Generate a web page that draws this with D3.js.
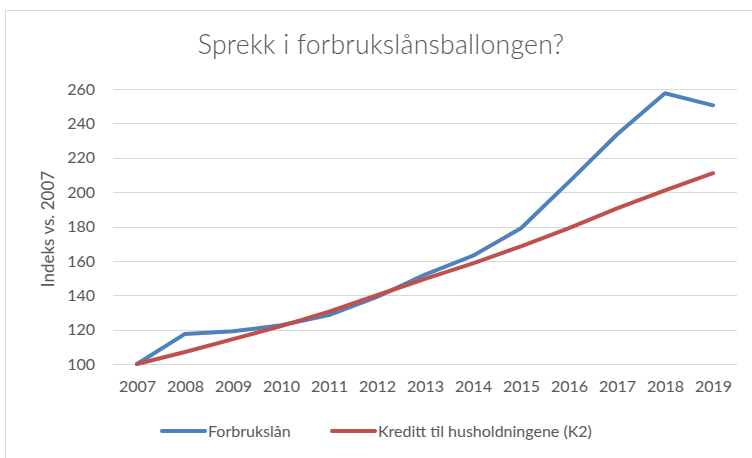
<!DOCTYPE html>
<html>
<head>
<meta charset="utf-8">
<script src="https://cdn.jsdelivr.net/npm/d3@7"></script>
<style>
  body { margin: 0; background: #fff; }
  text { font-family: Lato, "Open Sans", sans-serif; fill: #595959; }
</style>
</head>
<body>
<div id="chart"></div>
<script>
// values (index, 2007 = 100)
var years = ["2007", "2008", "2009", "2010", "2011", "2012", "2013", "2014", "2015", "2016", "2017", "2018", "2019"];
var forbrukslan = [100, 117.5, 119, 122.5, 128.5, 139, 152, 163, 179, 206, 233.5, 257.5, 250.5];
var kreditt = [100, 107, 114.5, 122, 130.5, 140, 149.5, 158.5, 168.5, 179, 190.5, 201, 211];
var yTicks = [100, 120, 140, 160, 180, 200, 220, 240, 260];

var seriesNames = ["Forbrukslån", "Kreditt til husholdningene (K2)"];
var seriesColors = ["#4f81bd", "#c0504d"];

var W = 752, H = 458;
var plot = {left: 113, right: 737, top: 89, bottom: 364};

var svg = d3.select("#chart").append("svg")
    .attr("width", W)
    .attr("height", H);

// chart frame
svg.append("rect")
    .attr("x", 5.5).attr("y", 10.5)
    .attr("width", 800).attr("height", 500)
    .attr("fill", "none")
    .attr("stroke", "#d9d9d9");

var x = d3.scalePoint()
    .domain(years)
    .range([plot.left, plot.right])
    .padding(0.5);

var y = d3.scaleLinear()
    .domain([100, 260])
    .range([plot.bottom, plot.top]);

// gridlines
svg.append("g")
    .selectAll("line")
    .data(yTicks)
    .enter().append("line")
    .attr("x1", plot.left)
    .attr("x2", plot.right)
    .attr("y1", d => Math.round(y(d)) + 0.5)
    .attr("y2", d => Math.round(y(d)) + 0.5)
    .attr("stroke", "#d9d9d9")
    .attr("stroke-width", 1);

// y axis labels
var yAxis = d3.axisLeft(y).tickValues(yTicks).tickSize(0).tickPadding(0);
svg.append("g")
    .attr("transform", "translate(95,0)")
    .call(yAxis)
    .call(g => g.select(".domain").remove())
    .selectAll("text")
    .attr("font-size", 16)
    .attr("font-family", null)
    .attr("fill", null);

// x axis labels
var xAxis = d3.axisBottom(x).tickSize(0).tickPadding(0);
svg.append("g")
    .attr("transform", "translate(0,381)")
    .call(xAxis)
    .call(g => g.select(".domain").remove())
    .selectAll("text")
    .attr("font-size", 16)
    .attr("font-family", null)
    .attr("fill", null);

// y axis title
svg.append("text")
    .attr("transform", "translate(54,229) rotate(-90)")
    .attr("text-anchor", "middle")
    .attr("font-size", 17)
    .text("Indeks vs. 2007");

// title
svg.append("text")
    .attr("x", 381)
    .attr("y", 54)
    .attr("text-anchor", "middle")
    .attr("font-size", 26.5)
    .attr("font-weight", 300)
    .attr("letter-spacing", 0.3)
    .text("Sprekk i forbrukslånsballongen?");

// lines
var line = d3.line()
    .x((d, i) => x(years[i]))
    .y(d => y(d));

[forbrukslan, kreditt].forEach(function (s, i) {
    svg.append("path")
        .datum(s)
        .attr("d", line)
        .attr("fill", "none")
        .attr("stroke", seriesColors[i])
        .attr("stroke-width", 4)
        .attr("stroke-linejoin", "round")
        .attr("stroke-linecap", "round");
});

// legend
var legendX = [162, 332];
var legend = svg.append("g")
    .selectAll("g")
    .data(seriesNames)
    .enter().append("g")
    .attr("transform", (d, i) => "translate(" + legendX[i] + ",431)");

legend.append("line")
    .attr("x1", 0).attr("x2", 43)
    .attr("stroke", (d, i) => seriesColors[i])
    .attr("stroke-width", 4)
    .attr("stroke-linecap", "round");

legend.append("text")
    .attr("x", 46)
    .attr("dy", "0.35em")
    .attr("font-size", 16)
    .text(d => d);
</script>
</body>
</html>
